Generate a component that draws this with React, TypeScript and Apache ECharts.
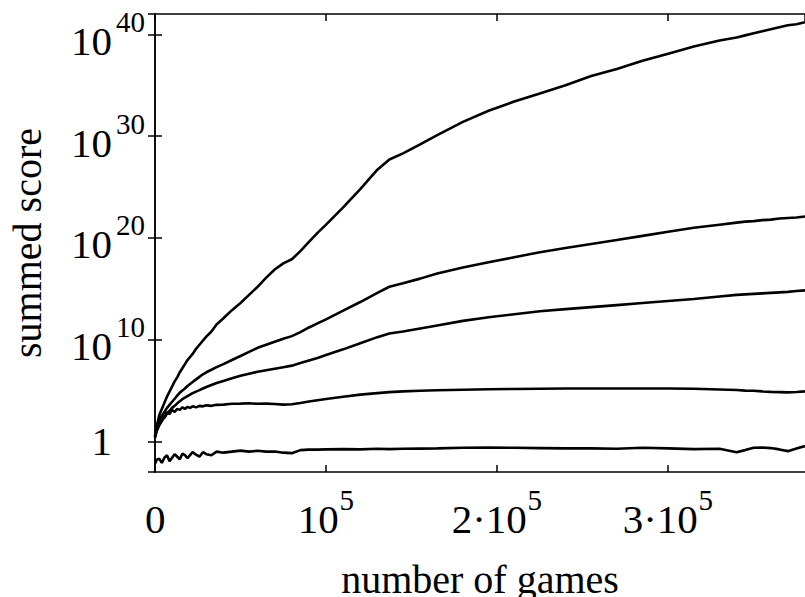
import React, { useEffect, useRef } from "react";
import * as echarts from "echarts";

// number of games, in thousands
const gamesK = [
  0, 1, 2.5, 4, 5.5, 7, 8.5, 10, 11.5, 13, 14.5, 16, 17.5, 19, 20.5, 22, 24, 26, 28, 30,
  33, 36, 40, 45, 50, 55, 60, 65, 70, 75, 80, 85, 90, 95, 100, 110, 120, 130, 137, 145,
  155, 165, 180, 195, 210, 225, 240, 255, 270, 285, 300, 315, 330, 340, 345, 350, 355,
  360, 365, 370, 375, 380,
];

// log10 of the summed score
const scoreA = [
  0.5, 1.5, 2.6, 3.2, 3.8, 4.4, 4.9, 5.4, 5.9, 6.3, 6.8, 7.2, 7.6, 8.0, 8.3, 8.6, 9.1, 9.5, 9.9, 10.3,
  10.8, 11.5, 12.1, 12.9, 13.6, 14.4, 15.2, 16.1, 16.9, 17.5, 17.9, 18.7, 19.6, 20.5, 21.3, 23.0, 24.8, 26.7, 27.7, 28.3,
  29.2, 30.1, 31.4, 32.5, 33.4, 34.2, 35.0, 35.9, 36.6, 37.4, 38.1, 38.8, 39.4, 39.7, 39.9, 40.1, 40.3,
  40.5, 40.7, 40.9, 41.0, 41.2,
];
const scoreB = [
  0.5, 1.3, 2.0, 2.5, 2.9, 3.3, 3.6, 3.9, 4.2, 4.5, 4.8, 5.0, 5.2, 5.45, 5.65, 5.85, 6.1, 6.35, 6.6, 6.8,
  7.05, 7.3, 7.6, 8.0, 8.4, 8.8, 9.2, 9.5, 9.8, 10.1, 10.35, 10.75, 11.2, 11.6, 12.0, 12.85, 13.7, 14.6, 15.2, 15.55,
  16.0, 16.5, 17.1, 17.6, 18.1, 18.6, 19.0, 19.4, 19.8, 20.2, 20.6, 21.0, 21.3, 21.5, 21.6, 21.65, 21.75,
  21.8, 21.9, 21.95, 22.0, 22.1,
];
const scoreC = [
  0.4, 1.0, 1.6, 2.0, 2.4, 2.7, 3.0, 3.3, 3.5, 3.75, 3.95, 4.15, 4.3, 4.45, 4.6, 4.75, 4.9, 5.05, 5.2, 5.35,
  5.55, 5.75, 5.95, 6.2, 6.45, 6.65, 6.85, 7.0, 7.15, 7.3, 7.45, 7.7, 7.95, 8.2, 8.5, 9.05, 9.65, 10.25, 10.6, 10.8,
  11.1, 11.4, 11.85, 12.2, 12.5, 12.8, 13.0, 13.2, 13.4, 13.6, 13.8, 14.0, 14.25, 14.4, 14.45, 14.5, 14.55,
  14.6, 14.65, 14.7, 14.78, 14.85,
];
const scoreD = [
  0.4, 1.3, 2.1, 2.5, 2.3, 2.9, 2.7, 3.1, 2.9, 3.2, 3.1, 3.35, 3.2, 3.4, 3.3, 3.45, 3.35, 3.5, 3.45, 3.55,
  3.5, 3.6, 3.62, 3.7, 3.72, 3.75, 3.7, 3.72, 3.68, 3.62, 3.65, 3.78, 3.92, 4.05, 4.18, 4.4, 4.6, 4.75, 4.85, 4.92,
  4.98, 5.03, 5.08, 5.13, 5.16, 5.18, 5.2, 5.21, 5.21, 5.2, 5.2, 5.18, 5.1, 5.05, 5.0, 4.98, 4.92,
  4.87, 4.85, 4.82, 4.86, 4.92,
];
const scoreE = [
  -2.2, -1.8, -1.7, -2.1, -1.6, -1.35, -1.95, -1.6, -1.25, -1.5, -1.75, -1.2, -1.35, -1.65, -1.35, -1.05, -1.3, -1.5, -1.05, -1.25,
  -1.35, -1.0, -1.1, -1.0, -0.9, -1.0, -0.92, -1.0, -0.98, -1.1, -1.15, -0.85, -0.8, -0.8, -0.78, -0.75, -0.78, -0.72, -0.75, -0.72,
  -0.7, -0.68, -0.62, -0.6, -0.62, -0.65, -0.68, -0.68, -0.72, -0.62, -0.68, -0.75, -0.72, -1.05, -0.85, -0.62, -0.6,
  -0.65, -0.78, -0.95, -0.7, -0.45,
];

const xTickStep = 100000;
const xMax = 380000;
const yMin = 1e-3;
const yMax = 1e42;

const FONT = '"Liberation Serif", "Times New Roman", serif';

export default function App() {
  const ref = useRef<HTMLDivElement>(null);

  useEffect(() => {
    if (!ref.current) return;
    const chart = echarts.init(ref.current, null, { renderer: "svg" });

    const toData = (logs: number[]) =>
      gamesK.map((g, i) => [g * 1000, Math.pow(10, logs[i])]);

    const mkLine = (name: string, logs: number[]) => ({
      type: "line",
      name,
      data: toData(logs),
      showSymbol: false,
      symbol: "none",
      silent: true,
      xAxisIndex: 0,
      yAxisIndex: 0,
      lineStyle: { color: "#000", width: 2.6 },
    });

    const axisLineStyle = { lineStyle: { color: "#000", width: 1.5 } };
    const tickStyle = { inside: true, length: 7, lineStyle: { color: "#000", width: 1.5 } };

    const baseRich = {
      sp: { fontSize: 1, lineHeight: 54, fontFamily: FONT },
      b: { fontSize: 41, lineHeight: 46, verticalAlign: "bottom", fontFamily: FONT, color: "#000" },
    };

    const option: any = {
      animation: false,
      backgroundColor: "#fff",
      grid: {
        left: 155,
        right: 0,
        top: 14,
        bottom: 125,
        containLabel: false,
        outerBoundsMode: "none",
      },
      xAxis: [
        {
          type: "value",
          min: 0,
          max: xMax,
          interval: xTickStep,
          position: "bottom",
          name: "number of games",
          nameLocation: "middle",
          nameGap: 87,
          nameTextStyle: { fontSize: 40, fontFamily: FONT, color: "#000" },
          axisLine: { show: true, ...axisLineStyle },
          axisTick: tickStyle,
          splitLine: { show: false },
          axisLabel: {
            margin: 13,
            color: "#000",
            fontFamily: FONT,
            fontSize: 41,
            showMaxLabel: false,
            formatter: (v: number) => {
              const k = Math.round(v / xTickStep);
              if (Math.abs(v - k * xTickStep) > 1) return "";
              if (k === 0) return "{sp| }{b|0}";
              if (k === 1) return "{sp| }{b|10}{sup|5}";
              return `{sp| }{b|${k}\u00b710}{sup|5}`;
            },
            rich: {
              ...baseRich,
              sup: { fontSize: 29, lineHeight: 33, verticalAlign: "top", width: 16, fontFamily: FONT, color: "#000" },
            },
          },
        },
        {
          type: "value",
          min: 0,
          max: xMax,
          interval: xTickStep,
          position: "top",
          axisLine: { show: true, ...axisLineStyle },
          axisTick: tickStyle,
          axisLabel: { show: false },
          splitLine: { show: false },
        },
      ],
      yAxis: [
        {
          type: "log",
          logBase: 10,
          min: yMin,
          max: yMax,
          position: "left",
          name: "summed score",
          nameLocation: "middle",
          nameGap: 108,
          nameTextStyle: { fontSize: 40, fontFamily: FONT, color: "#000" },
          axisLine: { show: true, ...axisLineStyle },
          axisTick: tickStyle,
          minorTick: { show: false },
          splitLine: { show: false },
          axisLabel: {
            margin: 10,
            color: "#000",
            fontFamily: FONT,
            fontSize: 41,
            showMinLabel: false,
            showMaxLabel: false,
            formatter: (v: number) => {
              const e = Math.round(Math.log10(v));
              if (e === 0) return "{one|1}{gap| }";
              if (e < 0 || e % 10 !== 0) return "";
              return `{sp| }{b|10}{sup|${e}}`;
            },
            rich: {
              ...baseRich,
              one: { fontSize: 41, lineHeight: 46, fontFamily: FONT, color: "#000" },
              gap: { width: 33, fontSize: 10, lineHeight: 10 },
              sup: { fontSize: 29, lineHeight: 33, verticalAlign: "top", width: 33, fontFamily: FONT, color: "#000" },
            },
          },
        },
        {
          type: "log",
          logBase: 10,
          min: yMin,
          max: yMax,
          position: "right",
          axisLine: { show: true, ...axisLineStyle },
          axisTick: tickStyle,
          minorTick: { show: false },
          axisLabel: { show: false },
          splitLine: { show: false },
        },
      ],
      series: [
        mkLine("A", scoreA),
        mkLine("B", scoreB),
        mkLine("C", scoreC),
        mkLine("D", scoreD),
        mkLine("E", scoreE),
      ],
    };

    chart.setOption(option);
    return () => chart.dispose();
  }, []);

  return (
    <div
      ref={ref}
      style={{ position: "fixed", left: 0, top: 0, width: 805, height: 597, background: "#fff" }}
    />
  );
}
